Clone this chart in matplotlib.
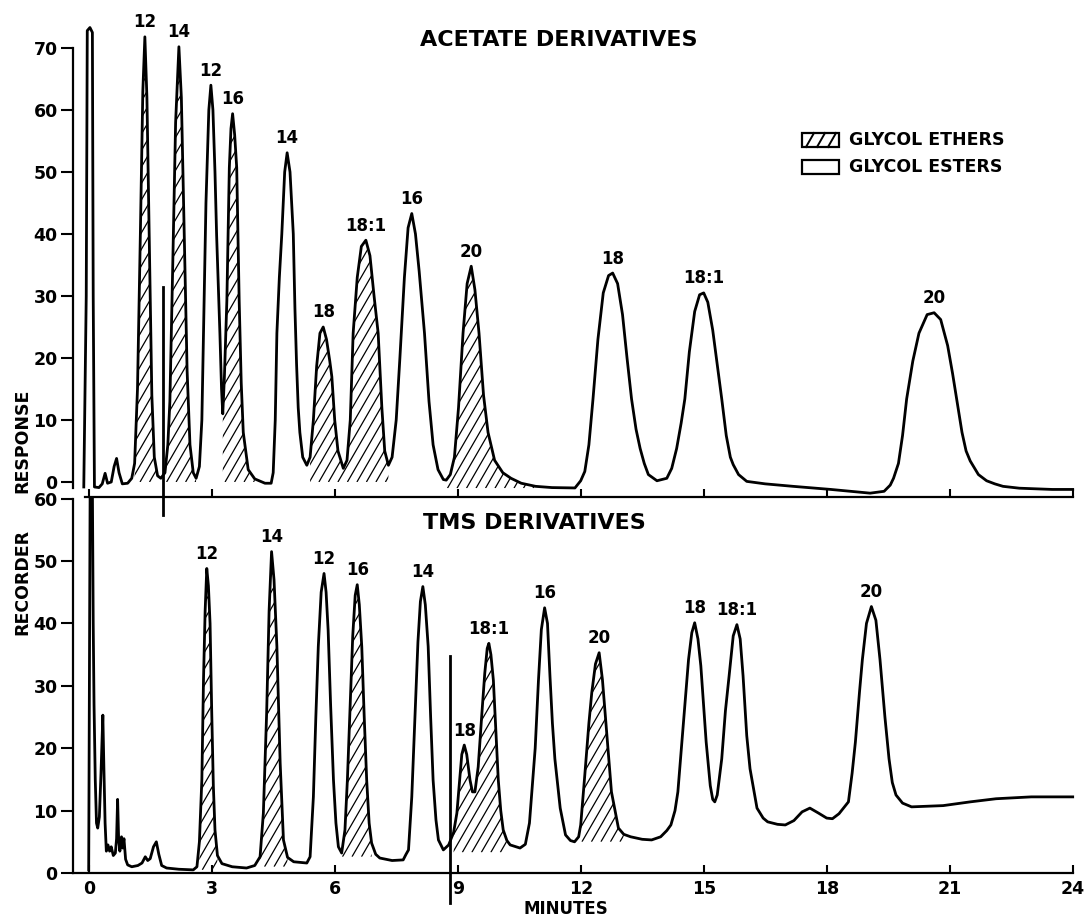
import numpy as np
import matplotlib.pyplot as plt
from matplotlib.patches import Polygon, Rectangle
from matplotlib.collections import LineCollection
from matplotlib.lines import Line2D

plt.rcParams['font.family'] = ['DejaVu Sans']
plt.rcParams['font.weight'] = 'bold'

acetate_trace = [
    (-0.12, -0.8), (-0.06, 30), (-0.035, 72.8), (0.03, 73.3), (0.09, 72.5), (0.11, 30),
    (0.14, -0.8), (0.25, -0.9), (0.33, -0.3), (0.40, 1.4), (0.46, -0.2), (0.55, 0.0),
    (0.62, 2.5), (0.68, 3.8), (0.74, 1.5), (0.82, -0.3), (0.95, -0.2), (1.05, 0.6),
    (1.12, 3), (1.19, 15), (1.26, 40), (1.32, 63), (1.37, 71.8), (1.42, 62), (1.48, 38),
    (1.54, 14), (1.60, 4), (1.68, 1.0), (1.76, 0.6),
    (1.86, 1.5), (1.93, 6), (1.98, 13), (2.05, 35), (2.12, 58), (2.20, 70.2), (2.26, 62),
    (2.33, 40), (2.40, 18), (2.47, 6), (2.55, 1.5), (2.62, 0.6),
    (2.70, 2.5), (2.76, 10), (2.80, 24), (2.86, 45), (2.93, 60), (2.98, 64), (3.03, 60),
    (3.08, 50), (3.12, 39.8), (3.17, 30), (3.20, 24), (3.24, 15), (3.27, 11),
    (3.31, 17), (3.37, 29.3), (3.43, 50.7), (3.47, 57), (3.51, 59.4), (3.56, 56), (3.61, 50.7),
    (3.67, 29.3), (3.72, 16), (3.77, 8), (3.89, 2), (4.05, 0.5), (4.30, -0.2), (4.45, -0.2),
    (4.50, 1.5), (4.55, 10), (4.59, 24), (4.65, 33), (4.71, 40), (4.78, 50), (4.84, 53.1),
    (4.91, 50), (4.99, 40), (5.03, 28), (5.07, 19), (5.11, 12), (5.15, 8), (5.22, 4), (5.32, 2.7),
    (5.40, 4), (5.48, 10), (5.56, 18.7), (5.64, 24), (5.72, 25), (5.80, 23), (5.88, 19.5),
    (5.93, 17), (6.00, 10), (6.08, 5), (6.21, 2.2),
    (6.30, 3.5), (6.38, 10), (6.45, 24), (6.55, 33), (6.65, 38), (6.76, 39), (6.86, 36.5),
    (6.96, 30), (7.06, 24), (7.15, 12), (7.22, 5), (7.31, 2.7),
    (7.40, 4), (7.50, 10), (7.59, 20), (7.70, 33), (7.79, 41), (7.88, 43.3), (7.97, 40),
    (8.06, 34), (8.19, 24), (8.30, 13), (8.40, 6), (8.52, 2), (8.65, 0.4), (8.72, 0.3),
    (8.82, 1.2), (8.92, 4), (9.02, 12), (9.13, 24), (9.23, 32), (9.33, 34.8), (9.42, 31),
    (9.52, 24), (9.63, 14), (9.74, 8), (9.90, 3.5), (10.10, 1.5), (10.30, 0.6), (10.55, -0.2),
    (10.90, -0.7), (11.30, -0.9), (11.86, -0.96),
    (12.00, 0.2), (12.10, 1.7), (12.20, 6), (12.30, 13.4), (12.42, 23), (12.55, 30.5),
    (12.68, 33.3), (12.78, 33.7), (12.90, 32), (13.02, 27), (13.13, 20), (13.24, 13.4),
    (13.35, 8.5), (13.45, 5.4), (13.55, 3), (13.65, 1.2), (13.86, 0.2), (14.10, 0.6),
    (14.22, 2.2), (14.34, 5.4), (14.45, 9.5), (14.54, 13.4), (14.65, 21), (14.78, 27.5),
    (14.90, 30.2), (15.00, 30.5), (15.10, 29), (15.22, 24.5), (15.33, 19), (15.44, 13.4),
    (15.55, 7.5), (15.65, 4), (15.72, 2.8), (15.85, 1.2), (16.05, 0.1), (16.50, -0.3),
    (17.18, -0.7), (18.10, -1.2), (19.06, -1.8), (19.40, -1.5), (19.55, -0.5), (19.63, 0.6),
    (19.75, 3), (19.85, 7.5), (19.95, 13.4), (20.10, 19.5), (20.25, 24), (20.45, 27),
    (20.62, 27.3), (20.78, 26.2), (20.95, 22), (21.07, 17.5), (21.17, 13.4), (21.30, 8),
    (21.40, 5), (21.50, 3.4), (21.70, 1.2), (21.90, 0.2), (22.10, -0.3), (22.30, -0.7),
    (22.70, -1.0), (23.50, -1.2), (24.00, -1.2),
]

tms_trace = [
    (0.00, 0.5), (0.02, 35), (0.035, 62), (0.09, 62), (0.11, 40), (0.13, 27), (0.16, 15),
    (0.19, 8.0), (0.22, 7.2), (0.26, 9), (0.30, 16), (0.345, 25.3), (0.37, 17), (0.40, 8),
    (0.43, 3.5), (0.47, 4.5), (0.51, 3.5), (0.55, 4.2), (0.60, 2.8), (0.65, 3.2), (0.68, 5.5),
    (0.705, 11.8), (0.73, 5.5), (0.76, 3.5), (0.80, 5.8), (0.83, 4.0), (0.86, 5.5), (0.90, 2.2),
    (0.95, 1.3), (1.05, 1.0), (1.20, 1.2), (1.30, 1.6), (1.38, 2.6), (1.44, 2.0), (1.50, 2.3),
    (1.58, 4.2), (1.65, 5.0), (1.71, 3.0), (1.78, 1.2), (1.90, 0.8), (2.20, 0.6), (2.55, 0.5),
    (2.64, 1.0), (2.70, 5), (2.76, 15), (2.80, 31), (2.84, 42), (2.88, 48.8), (2.92, 46),
    (2.96, 40), (3.00, 26), (3.04, 14), (3.08, 6.9), (3.14, 2.8), (3.25, 1.5), (3.50, 1.0),
    (3.85, 0.8), (4.05, 1.2), (4.18, 2.6),
    (4.26, 9.6), (4.34, 25.6), (4.40, 42), (4.46, 51.5), (4.52, 47), (4.59, 36.3), (4.67, 17.6),
    (4.75, 5.3), (4.85, 2.5), (5.00, 1.8), (5.32, 1.6), (5.40, 2.6),
    (5.48, 12.2), (5.54, 25), (5.60, 36.3), (5.67, 45), (5.74, 48.0), (5.79, 45), (5.84, 38.9),
    (5.90, 27), (5.97, 14.9), (6.03, 8), (6.09, 4.2), (6.17, 3.2),
    (6.25, 6.9), (6.31, 15), (6.37, 25.6), (6.44, 38), (6.50, 44.5), (6.55, 46.2), (6.60, 43),
    (6.66, 36.3), (6.72, 25), (6.78, 14.9), (6.84, 8), (6.90, 4.8), (7.00, 3.0), (7.10, 2.4),
    (7.40, 2.0), (7.67, 2.1), (7.74, 3.0),
    (7.80, 3.7), (7.88, 12.2), (7.96, 25.6), (8.03, 37), (8.09, 43.5), (8.15, 45.9), (8.21, 43),
    (8.28, 36.3), (8.34, 25), (8.40, 14.9), (8.47, 8.5), (8.53, 5.3), (8.65, 3.7), (8.78, 4.5),
    (8.90, 6.5), (8.98, 9.6), (9.05, 15), (9.10, 19), (9.16, 20.5), (9.22, 19), (9.30, 14.9),
    (9.36, 13), (9.42, 13.0),
    (9.50, 17), (9.59, 25.6), (9.66, 32), (9.72, 36), (9.76, 36.8), (9.81, 35), (9.87, 30.9),
    (9.93, 23), (9.99, 14.9), (10.05, 10), (10.11, 6.9), (10.20, 5.2), (10.28, 4.5), (10.52, 4.0),
    (10.65, 4.6),
    (10.75, 8), (10.82, 14), (10.89, 20), (10.97, 30.9), (11.04, 39), (11.12, 42.5), (11.19, 40),
    (11.25, 31.6), (11.31, 24), (11.37, 18.3), (11.50, 10.4), (11.63, 6.1), (11.75, 5.2),
    (11.85, 5.0), (11.95, 5.8),
    (12.00, 7.7), (12.10, 15.7), (12.20, 24), (12.27, 28.9), (12.36, 33.5), (12.45, 35.3),
    (12.53, 31), (12.62, 23.6), (12.75, 13.0), (12.92, 7.2), (13.05, 6.2), (13.22, 5.8),
    (13.50, 5.4), (13.73, 5.3), (13.95, 5.8), (14.10, 6.8), (14.20, 7.7),
    (14.30, 10), (14.37, 13.0), (14.50, 23.6), (14.63, 34.2), (14.71, 38.5), (14.78, 40.1),
    (14.86, 37.5), (14.93, 33.2), (15.06, 21), (15.16, 14), (15.22, 11.8), (15.27, 11.4),
    (15.33, 12.5),
    (15.44, 18.3), (15.53, 26), (15.62, 31.6), (15.72, 38), (15.81, 39.8), (15.89, 37.5),
    (15.96, 31.6), (16.05, 22), (16.13, 16.7), (16.30, 10.4), (16.45, 8.8), (16.56, 8.2),
    (16.80, 7.8), (16.99, 7.7), (17.20, 8.4), (17.40, 9.8), (17.59, 10.4), (17.80, 9.6),
    (18.00, 8.8), (18.14, 8.7), (18.30, 9.5), (18.42, 10.5),
    (18.53, 11.4), (18.62, 16), (18.70, 21), (18.80, 29), (18.87, 34.2), (18.97, 40),
    (19.09, 42.7), (19.20, 40.5), (19.30, 34.2), (19.42, 25), (19.52, 18.3), (19.60, 14.5),
    (19.69, 12.5), (19.85, 11.2), (20.07, 10.6), (20.84, 10.8), (21.50, 11.4), (22.13, 11.9),
    (22.99, 12.2), (24.00, 12.2),
]

# peak labels: (label, minutes, apex height)
acetate_labels = ['12', '14', '12', '16', '14', '18', '18:1', '16', '20', '18', '18:1', '20']
acetate_peak_t = [1.37, 2.20, 2.98, 3.51, 4.84, 5.72, 6.76, 7.88, 9.33, 12.78, 15.00, 20.62]
acetate_peak_v = [71.8, 70.2, 64.0, 59.4, 53.1, 25.0, 39.0, 43.3, 34.8, 33.7, 30.5, 27.3]

tms_labels = ['12', '14', '12', '16', '14', '18', '18:1', '16', '20', '18', '18:1', '20']
tms_peak_t = [2.88, 4.46, 5.74, 6.55, 8.15, 9.16, 9.76, 11.12, 12.45, 14.78, 15.81, 19.09]
tms_peak_v = [48.8, 51.5, 48.0, 46.2, 45.9, 20.5, 36.8, 42.5, 35.3, 40.1, 39.8, 42.7]

# glycol ether (hatched) regions: start, end, base level
acetate_ether = [(1.12, 1.74, 0.0), (1.84, 2.62, 0.0), (3.27, 4.20, 0.0),
                 (5.34, 7.31, 0.0), (8.72, 11.0, -1.0)]
tms_ether = [(2.66, 3.14, 0.5), (4.18, 4.85, 1.0), (6.17, 6.95, 2.6),
             (8.82, 10.20, 3.3), (11.97, 13.10, 5.0)]

# marker pens: (minutes, top, bottom)
acetate_marker = (1.82, 31.5, -5.3)
tms_marker = (8.80, 34.7, -4.8)

W, H = 1091, 917
fig = plt.figure(figsize=(W / 100, H / 100), dpi=100)


def fx(px):
    return px / W


def fy(py):
    return 1 - py / H


x0_px, ppm = 88.7, 41.0
left_px = 73
right_px = x0_px + ppm * 24.15
xl = ((left_px - x0_px) / ppm, 24.15)

ax_top = fig.add_axes([fx(left_px), fy(497), fx(right_px) - fx(left_px), fy(0) - fy(497)])
ax_bot = fig.add_axes([fx(left_px), fy(873), fx(right_px) - fx(left_px), fy(497) - fy(873)])

ax_top.set_xlim(*xl)
ax_top.set_ylim(-15 / 6.2, 482 / 6.2)
ax_bot.set_xlim(*xl)
ax_bot.set_ylim(0, 376 / 6.24)

for ax in (ax_top, ax_bot):
    ax.patch.set_visible(False)
    for s in ('top', 'right'):
        ax.spines[s].set_visible(False)
    for s in ('left', 'bottom'):
        ax.spines[s].set_linewidth(1.6)
    ax.set_xticks(np.arange(0, 25, 3))
    ax.tick_params(axis='x', direction='in', length=6, width=1.5, pad=5, labelsize=12.5)
    ax.tick_params(axis='y', direction='out', length=9, width=1.5, pad=2, labelsize=12.5)

ax_top.spines['left'].set_bounds(-1.0, 70)
ax_top.spines['bottom'].set_bounds(-0.1, 24)
ax_top.set_yticks(np.arange(0, 71, 10))
ax_top.tick_params(axis='x', labelbottom=False)
ax_bot.spines['left'].set_bounds(0, 60)
ax_bot.spines['bottom'].set_bounds(xl[0], 24)
ax_bot.set_yticks(np.arange(0, 61, 10))


def draw_hatch(ax, t, v, t0, t1, base, spacing=9.5, angle=60):
    m = (t >= t0) & (t <= t1)
    tt = t[m]
    vv = np.maximum(v[m], base)
    verts = [(tt[0], base)] + list(zip(tt, vv)) + [(tt[-1], base)]
    poly = Polygon(verts, closed=True, fill=False, edgecolor='none')
    ax.add_patch(poly)
    p0 = ax.transData.transform((0, 0))
    p1 = ax.transData.transform((1, 1))
    px_t, px_v = p1[0] - p0[0], p1[1] - p0[1]
    slope = np.tan(np.radians(angle)) * px_t / px_v
    top = vv.max() + 1
    run = (top - base) / slope
    starts = np.arange(tt[0] - run, tt[-1] + spacing / px_t, spacing / px_t)
    segs = [[(s, base), (s + run, top)] for s in starts]
    lc = LineCollection(segs, colors='black', linewidths=0.9)
    ax.add_collection(lc)
    lc.set_clip_path(poly)


for ax, trace, ethers, marker, labels, pt, pv in (
        (ax_top, acetate_trace, acetate_ether, acetate_marker,
         acetate_labels, acetate_peak_t, acetate_peak_v),
        (ax_bot, tms_trace, tms_ether, tms_marker,
         tms_labels, tms_peak_t, tms_peak_v)):
    t, v = np.array(trace).T
    ax.plot(t, v, color='black', lw=2.0, solid_joinstyle='round')
    for t0, t1, base in ethers:
        draw_hatch(ax, t, v, t0, t1, base)
    ax.plot([marker[0], marker[0]], [marker[1], marker[2]], color='black', lw=2.0,
            clip_on=False)
    for lbl, x, y in zip(labels, pt, pv):
        ax.annotate(lbl, (x, y), xytext=(0, 4), textcoords='offset points',
                    ha='center', va='bottom', fontsize=12)

# titles and axis labels
fig.text(fx(420), fy(40), 'ACETATE DERIVATIVES', ha='left', va='center', fontsize=16)
fig.text(fx(423), fy(523), 'TMS DERIVATIVES', ha='left', va='center', fontsize=16)
fig.text(fx(22), fy(441), 'RESPONSE', rotation=90, ha='center', va='center', fontsize=12.5)
fig.text(fx(22), fy(582), 'RECORDER', rotation=90, ha='center', va='center', fontsize=12.5)
fig.text(fx(566), fy(909), 'MINUTES', ha='center', va='center', fontsize=12)

# legend
for row_y, label, hatched in ((140, 'GLYCOL ETHERS', True), (167, 'GLYCOL ESTERS', False)):
    fig.patches.append(Rectangle((fx(802), fy(row_y + 7)), 37 / W, 14 / H, fill=False,
                                 lw=1.6, edgecolor='black', transform=fig.transFigure))
    if hatched:
        for xs in (806, 817, 828):
            fig.lines.append(Line2D([fx(xs), fx(xs + 8)], [fy(row_y + 7), fy(row_y - 7)],
                                    color='black', lw=1.4, transform=fig.transFigure))
    fig.text(fx(849), fy(row_y), label, ha='left', va='center', fontsize=12.5)

fig.savefig('out.png', dpi=100)
